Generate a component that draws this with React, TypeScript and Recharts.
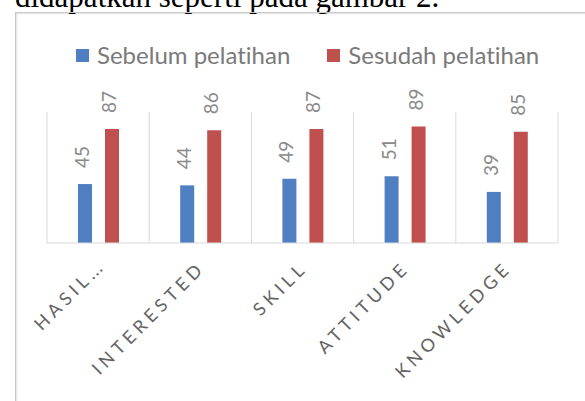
import { BarChart, Bar, XAxis, YAxis, CartesianGrid, Legend, LabelList } from "recharts";

const categories = ["HASIL...", "INTERESTED", "SKILL", "ATTITUDE", "KNOWLEDGE"];
const seriesNames = ["Sebelum pelatihan", "Sesudah pelatihan"];
const sebelum = [45, 44, 49, 51, 39];
const sesudah = [87, 86, 87, 89, 85];

const data = categories.map((name, i) => ({ name, sebelum: sebelum[i], sesudah: sesudah[i] }));

const BLUE = "#4f7fc0";
const RED = "#c0504d";
const FONT = "Lato, 'Open Sans', sans-serif";

const ValueLabel = (props: any) => {
  const { x, y, width, value } = props;
  const cx = x + width / 2 + 4;
  const cy = y - 16;
  return (
    <text
      transform={`translate(${cx}, ${cy}) rotate(-90)`}
      textAnchor="start"
      fontSize={19}
      fontFamily={FONT}
      fill="#8a8a8a"
    >
      {value}
    </text>
  );
};

const CategoryTick = (props: any) => {
  const { x, y, payload } = props;
  const label = String(payload.value);
  // trailing dots of a truncated label sit close together
  const m = label.match(/^(.*?)(\.+)$/);
  return (
    <text
      transform={`translate(${x + 6}, ${y + 18}) rotate(-45)`}
      textAnchor="end"
      fontSize={18}
      fontFamily={FONT}
      letterSpacing={4.5}
      fill="#646464"
    >
      {m ? (
        <>
          {m[1]}
          <tspan letterSpacing={1}>{m[2]}</tspan>
        </>
      ) : (
        label
      )}
    </text>
  );
};

const LegendContent = (props: any) => {
  const { payload } = props;
  return (
    <div style={{ display: "flex", height: 24, alignItems: "center", paddingLeft: 76 }}>
      {(payload || []).map((p: any) => (
        <div key={p.value} style={{ display: "flex", alignItems: "center", marginRight: 37 }}>
          <div style={{ width: 13, height: 13, background: p.color, marginRight: 8 }} />
          <span
            style={{
              fontFamily: FONT,
              fontSize: 24,
              color: "#7a7a7a",
              lineHeight: "24px",
              fontVariantLigatures: "none",
            }}
          >
            {p.value}
          </span>
        </div>
      ))}
    </div>
  );
};

export default function App() {
  return (
    <div style={{ position: "absolute", left: 0, top: 0, width: 585, height: 401, background: "#fff", overflow: "hidden" }}>
      <svg width={585} height={14} style={{ position: "absolute", left: 0, top: 0 }}>
        <text x={15} y={7} fontFamily="'Liberation Serif', 'Times New Roman', serif" fontSize={31} fill="#000">
          didapatkan seperti pada gambar 2.
        </text>
      </svg>
      <div
        style={{
          position: "absolute",
          left: 15,
          top: 12,
          width: 590,
          height: 400,
          borderLeft: "1px solid #c8c8c8",
          borderTop: "1px solid #c8c8c8",
          boxShadow: "1px 1px 2px rgba(0,0,0,0.12) inset",
        }}
      />
      <div style={{ position: "absolute", left: 0, top: 0 }}>
        <BarChart
          width={585}
          height={401}
          data={data}
          margin={{ top: 88, right: 27, left: 47, bottom: 58 }}
          barSize={14}
          barGap={13}
        >
          <CartesianGrid
            horizontal={false}
            stroke="#d9d9d9"
            verticalCoordinatesGenerator={({ offset }: any) =>
              Array.from({ length: categories.length + 1 }, (_, i) => offset.left + (offset.width * i) / categories.length)
            }
          />
          <XAxis
            dataKey="name"
            height={100}
            interval={0}
            tickLine={false}
            axisLine={{ stroke: "#d9d9d9" }}
            tick={<CategoryTick />}
          />
          <YAxis hide domain={[0, 100]} />
          <Legend
            verticalAlign="top"
            content={<LegendContent />}
            wrapperStyle={{ top: 43, left: 0, width: 585 }}
          />
          <Bar dataKey="sebelum" name={seriesNames[0]} fill={BLUE} isAnimationActive={false}>
            <LabelList dataKey="sebelum" content={<ValueLabel />} />
          </Bar>
          <Bar dataKey="sesudah" name={seriesNames[1]} fill={RED} isAnimationActive={false}>
            <LabelList dataKey="sesudah" content={<ValueLabel />} />
          </Bar>
        </BarChart>
      </div>
    </div>
  );
}
